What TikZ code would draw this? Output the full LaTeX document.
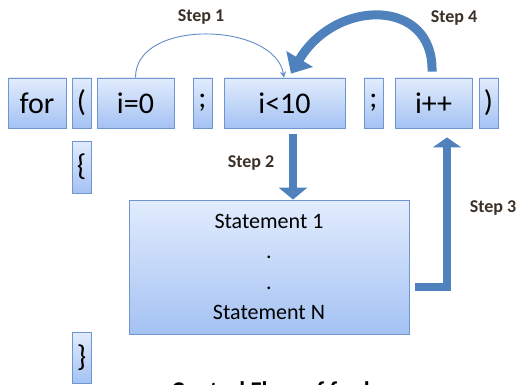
\documentclass[tikz,border=0pt]{standalone}
\usepackage{fontspec}
\setmainfont{Carlito}
\usepackage{xcolor}
\definecolor{boxline}{RGB}{112,150,208}
\definecolor{boxtop}{RGB}{226,236,253}
\definecolor{boxbottom}{RGB}{164,194,243}
\definecolor{flowblue}{RGB}{79,129,189}
\definecolor{arcblue}{RGB}{96,140,200}
\definecolor{steptext}{RGB}{58,48,40}
\usepackage{tikz}
\usetikzlibrary{arrows.meta,shadows}

\begin{document}
\begin{tikzpicture}[x=1pt,y=-1pt,
    token/.style={draw=boxline, line width=0.8pt, top color=boxtop, bottom color=boxbottom,
      inner sep=0pt, minimum height=50, font=\fontsize{30}{30}\selectfont,
      drop shadow={shadow xshift=1.2pt, shadow yshift=-1.2pt, opacity=0.3}},
    steplabel/.style={font=\fontsize{18}{18}\selectfont\bfseries, text=steptext, inner sep=0pt},
    fatarrow/.style={draw=flowblue, line width=8pt}]
  \clip (0,0) rectangle (519,385);
  \node[token, minimum width=58] (kw) at (37,103) {for};
  \node[token, minimum width=19] (lp) at (81.5,103) {(};
  \node[token, minimum width=77] (init) at (135.5,103) {i=0};
  \node[token, minimum width=19] (semia) at (202.5,103) {;};
  \node[token, minimum width=121] (cond) at (284.5,103) {i<10};
  \node[token, minimum width=19] (semib) at (373.5,103) {;};
  \node[token, minimum width=77] (incr) at (433.5,103) {i++};
  \node[token, minimum width=19] (rp) at (488.5,103) {)};
  \node[token, minimum width=19, minimum height=52] (lb) at (81.5,167) {\{};
  \node[token, minimum width=19, minimum height=51] (rb) at (81.5,357.5) {\}};
  \node[token, minimum width=280, minimum height=134, align=center,
    font=\fontsize{22}{30.5}\selectfont] (body) at (269,267) {Statement 1\\.\\.\\Statement N};

  \draw[arcblue, line width=0.9pt, -{Stealth[length=6pt,width=6pt,open]}]
    (init.north) .. controls (135,18) and (275,22) .. ([xshift=-0.5]cond.north);
  \draw[fatarrow, line width=9pt, -{Triangle[width=30pt,length=17pt]}]
    ([xshift=-1.5,yshift=6]incr.north) .. controls (434,-2) and (336,-2) .. ([xshift=6.5,yshift=4]cond.north);
  \draw[fatarrow, -{Triangle[width=28pt,length=12pt]}]
    ([xshift=8.5,yshift=-6]cond.south) -- ([xshift=8.5]cond.south |- body.north);
  \coordinate (bend) at (447,287);
  \draw[fatarrow, -{Triangle[width=28pt,length=10pt]}]
    ([xshift=6]body.east |- bend) -| ([yshift=-9]incr.south -| bend);

  \node[steplabel] (s1) at (201,17) {Step 1};
  \node[steplabel] (s2) at (251,163) {Step 2};
  \node[steplabel] (s3) at (493,208) {Step 3};
  \node[steplabel] (s4) at (454,18) {Step 4};
  \node[font=\fontsize{24}{24}\selectfont\bfseries, anchor=north, inner sep=0pt] (title) at (290,381) {Control Flow of for loop};
\end{tikzpicture}
\end{document}
